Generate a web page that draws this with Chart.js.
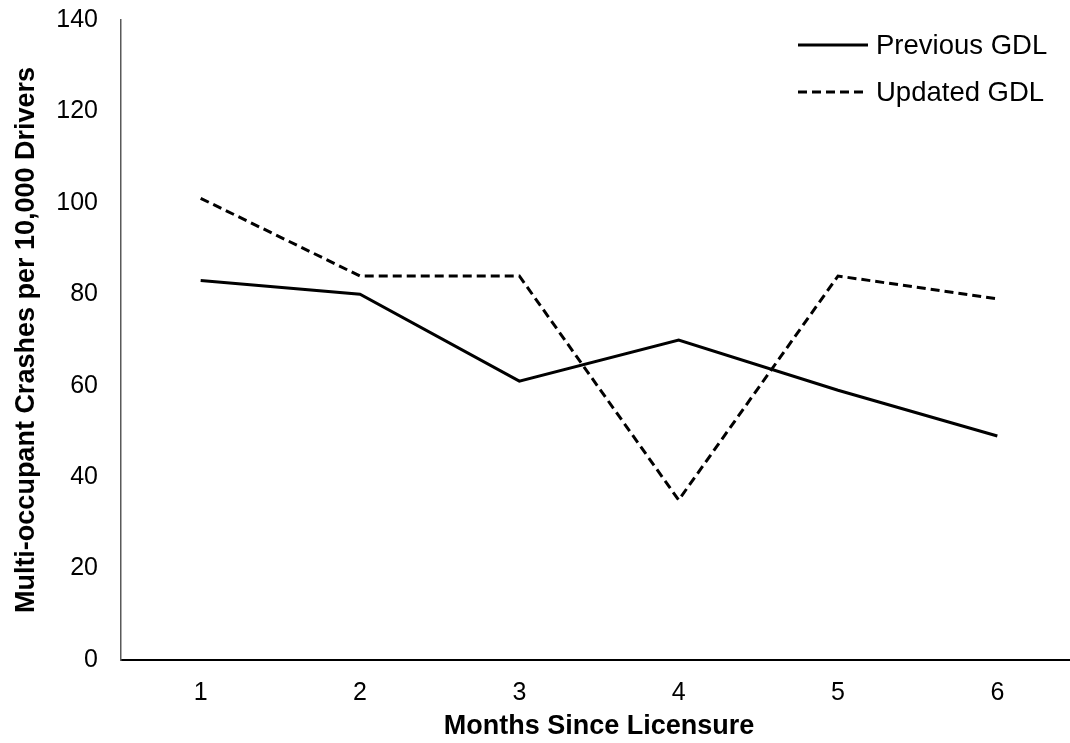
<!DOCTYPE html>
<html>
<head>
<meta charset="utf-8">
<script src="https://cdn.jsdelivr.net/npm/chart.js@4.4.1/dist/chart.umd.min.js"></script>
<style>
  html, body { margin: 0; padding: 0; background: #fff; overflow: hidden; }
  #wrap { position: relative; width: 1077px; height: 743px; }
</style>
</head>
<body>
<div id="wrap"><canvas id="c"></canvas></div>
<script>
const categories = ['1', '2', '3', '4', '5', '6'];
const previousGDL = [83, 80, 61, 70, 59, 49];
const updatedGDL = [101, 84, 84, 35, 84, 79];
const seriesNames = ['Previous GDL', 'Updated GDL'];
const yTicks = [0, 20, 40, 60, 80, 100, 120, 140];
const xTitle = 'Months Since Licensure';
const yTitle = 'Multi-occupant Crashes per 10,000 Drivers';

const FONT = "'Liberation Sans', Arial, sans-serif";

const legendPlugin = {
  id: 'manualLegend',
  afterDraw(chart) {
    const ctx = chart.ctx;
    const rows = [45, 92];
    chart.data.datasets.forEach((ds, i) => {
      const y = rows[i];
      ctx.save();
      ctx.strokeStyle = ds.borderColor;
      ctx.lineWidth = ds.borderWidth;
      ctx.setLineDash(ds.borderDash || []);
      ctx.beginPath();
      ctx.moveTo(798, y);
      ctx.lineTo(868, y);
      ctx.stroke();
      ctx.setLineDash([]);
      ctx.fillStyle = '#000';
      ctx.font = "27.5px " + FONT;
      ctx.textAlign = 'left';
      ctx.textBaseline = 'middle';
      ctx.fillText(ds.label, 876, y + 1);
      ctx.restore();
    });
  }
};

new Chart(document.getElementById('c'), {
  type: 'line',
  data: {
    labels: categories,
    datasets: [
      {
        label: seriesNames[0],
        data: previousGDL,
        borderColor: '#000',
        backgroundColor: '#000',
        borderWidth: 3,
        pointRadius: 0,
        tension: 0,
        fill: false
      },
      {
        label: seriesNames[1],
        data: updatedGDL,
        borderColor: '#000',
        backgroundColor: '#000',
        borderWidth: 3,
        borderDash: [9, 5],
        pointRadius: 0,
        tension: 0,
        fill: false
      }
    ]
  },
  options: {
    responsive: true,
    maintainAspectRatio: false,
    animation: false,
    layout: { padding: { top: 20, right: 0, bottom: 0, left: 0 } },
    plugins: {
      legend: { display: false },
      tooltip: { enabled: false }
    },
    scales: {
      x: {
        type: 'category',
        offset: true,
        grid: { display: false, drawTicks: false },
        border: { display: true, color: '#000', width: 2 },
        ticks: {
          color: '#000',
          font: { family: FONT, size: 25 },
          padding: 18,
          maxRotation: 0
        },
        title: {
          display: true,
          text: xTitle,
          color: '#000',
          font: { family: FONT, size: 27, weight: 'bold' },
          padding: { top: 0, bottom: 0 }
        },
        afterFit(scale) {
          scale.height = 83;
          scale.paddingLeft = 0;
          scale.paddingRight = 0;
        }
      },
      y: {
        min: 0,
        max: 140,
        afterBuildTicks(scale) { scale.ticks = yTicks.map(v => ({ value: v })); },
        grid: { display: false, drawTicks: false },
        border: { display: true, color: '#595959', width: 1.5 },
        ticks: {
          color: '#000',
          font: { family: FONT, size: 25 },
          padding: 23
        },
        title: {
          display: true,
          text: yTitle,
          color: '#000',
          font: { family: FONT, size: 27, weight: 'bold' },
          padding: { top: 10, bottom: 0 }
        },
        afterFit(scale) {
          scale.width = 121;
          scale.paddingTop = 0;
          scale.paddingBottom = 0;
        }
      }
    }
  },
  plugins: [legendPlugin]
});
</script>
</body>
</html>
